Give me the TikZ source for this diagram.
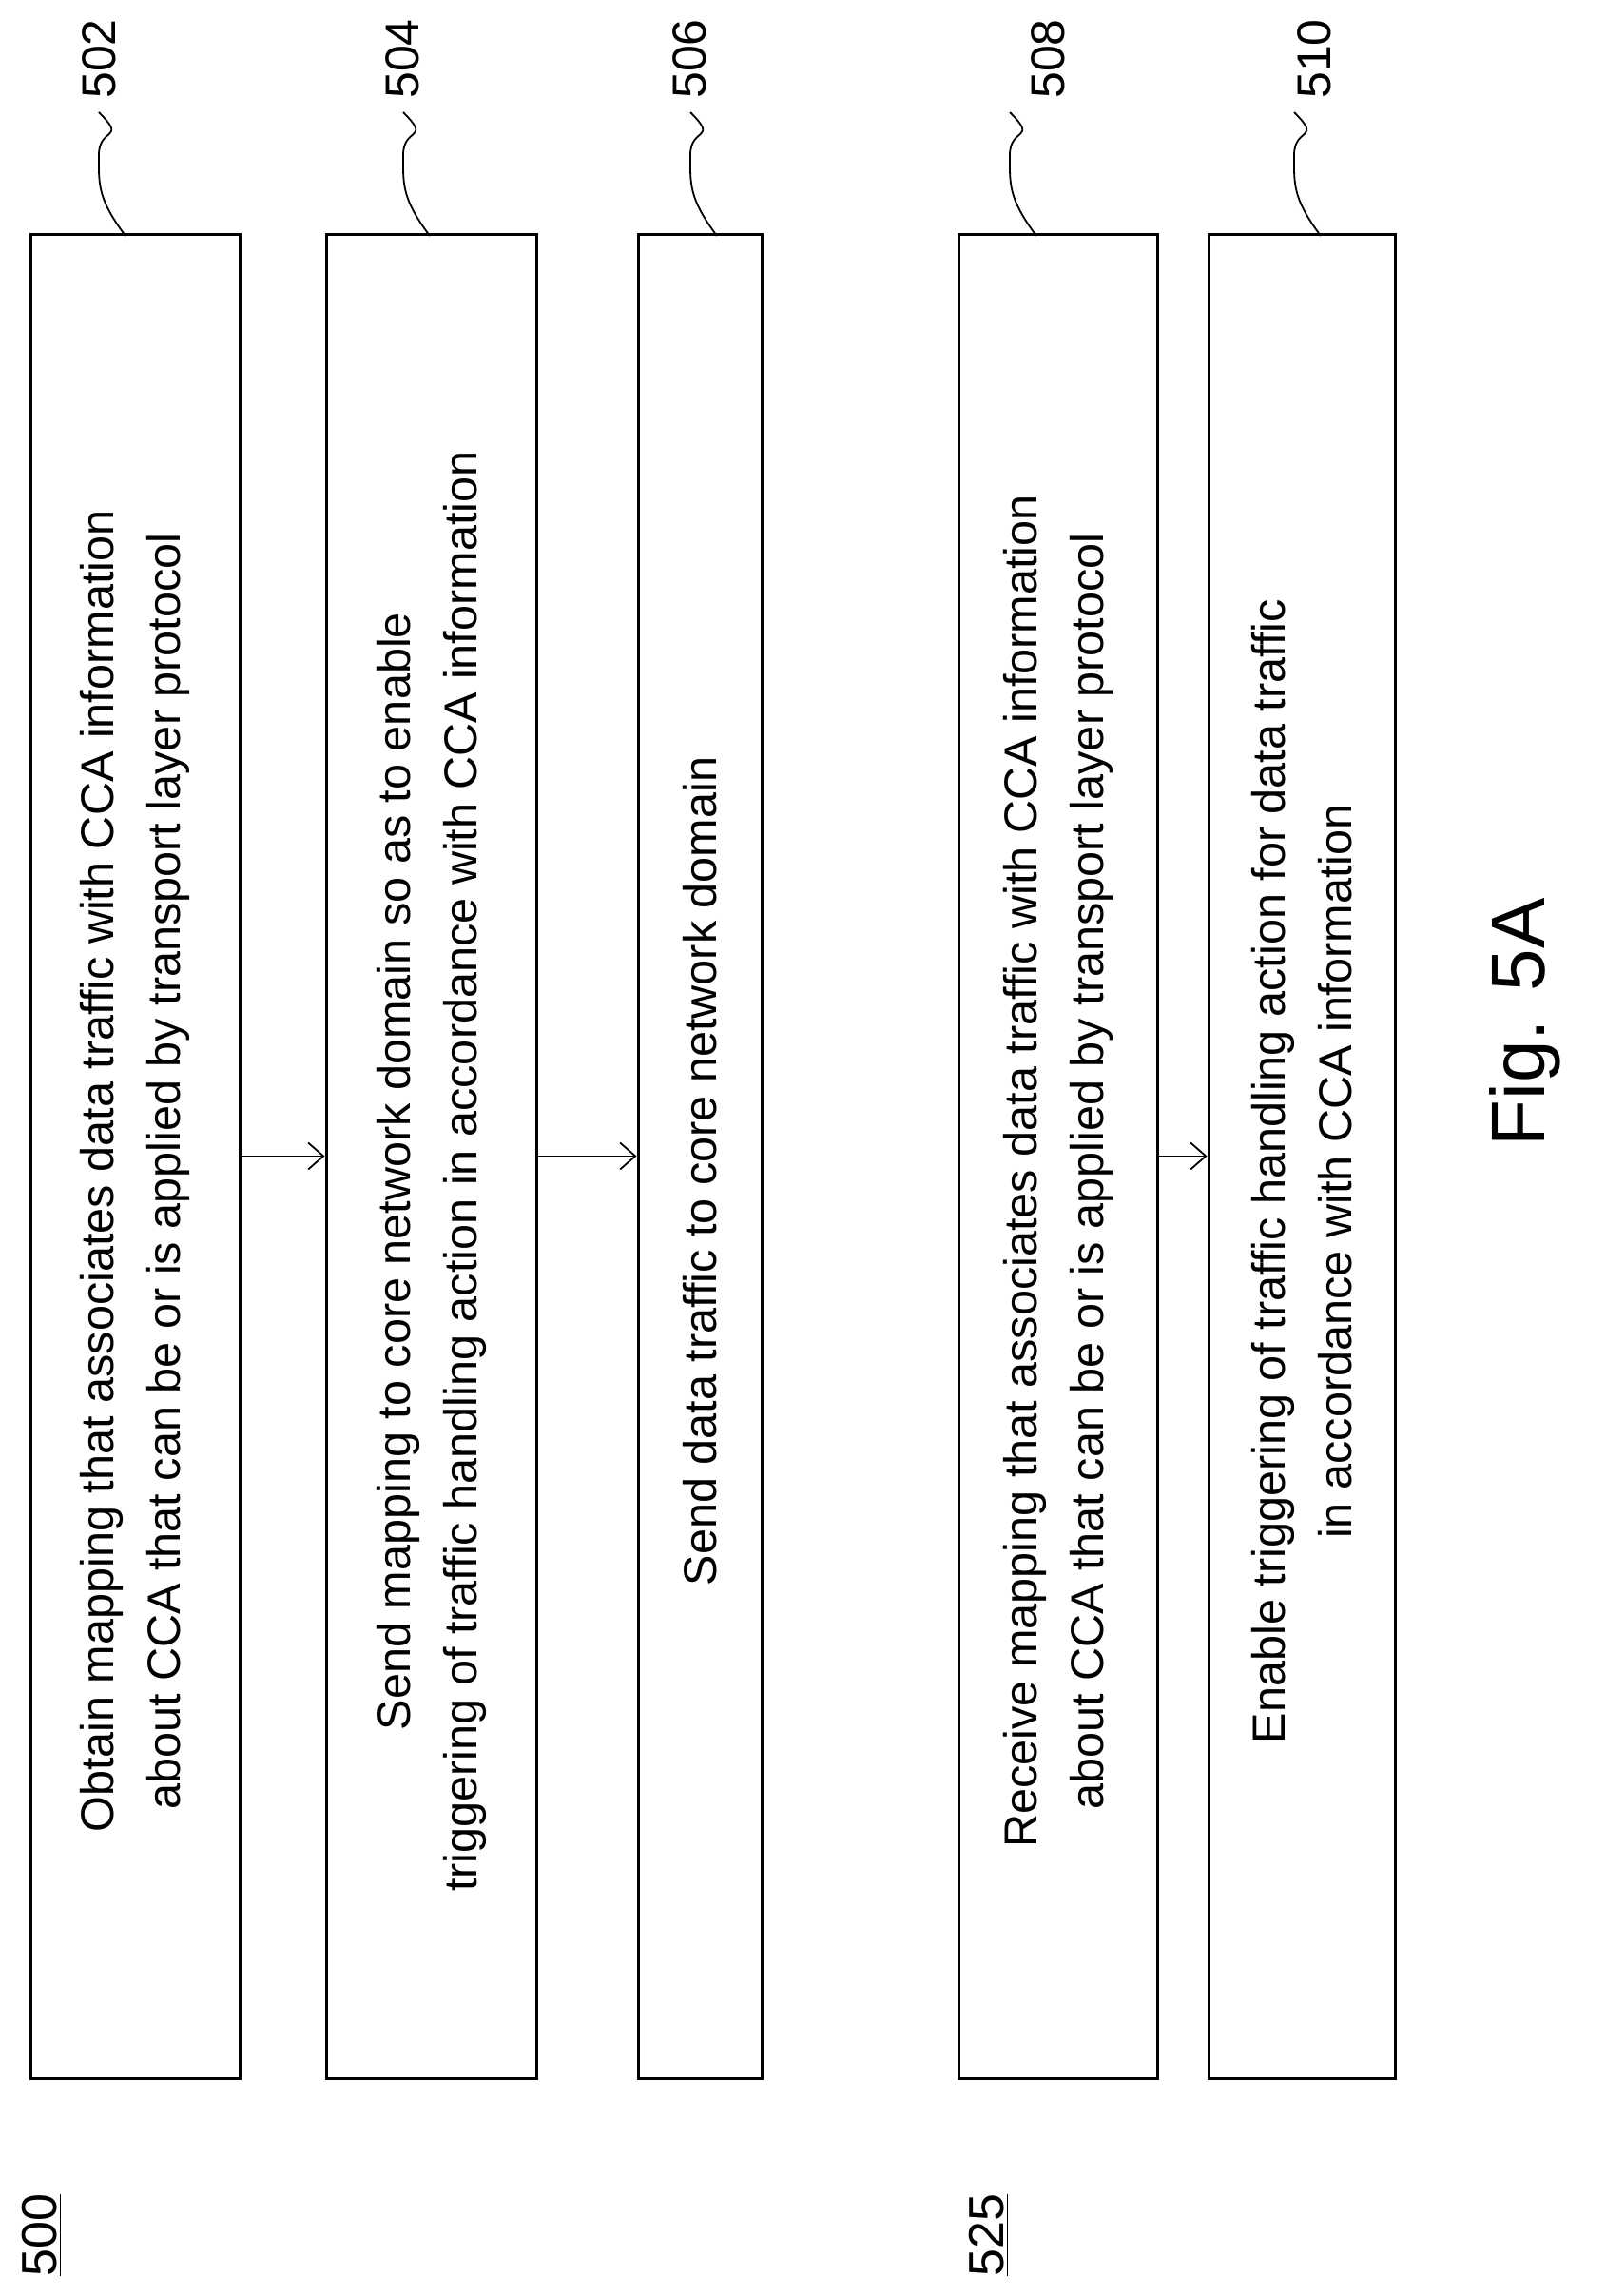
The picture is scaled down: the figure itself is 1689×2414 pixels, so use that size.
\documentclass[tikz,border=0pt]{standalone}
\usepackage{fontspec}
\setmainfont{Liberation Sans}
\usetikzlibrary{arrows.meta}
\begin{document}
\begin{tikzpicture}[x=0.5pt,y=-0.5pt,
  box/.style={draw,line width=1.5pt,inner sep=0pt,minimum height=969.5pt},
  txt/.style={rotate=90,align=center,font=\fontsize{24.3}{35}\selectfont},
  ref/.style={rotate=90,font=\fontsize{25}{29}\selectfont},
  arr/.style={-{Straight Barb[length=8pt,width=14pt]},line width=0.9pt},
  sq/.style={line width=0.9pt}]
\useasboundingbox (0,0) rectangle (1689,2414);
\node[box,minimum width=110pt] (b502) at (142,1215.5) {};
\node[box,minimum width=110.5pt] (b504) at (453.5,1215.5) {};
\node[box,minimum width=65pt] (b506) at (736,1215.5) {};
\node[box,minimum width=104.5pt] (b508) at (1112.5,1215.5) {};
\node[box,minimum width=98pt] (b510) at (1369,1215.5) {};
\node[txt] at ([yshift=-8pt]b502.center) {Obtain mapping that associates data traffic with CCA information\\about CCA that can be or is applied by transport layer protocol};
\node[txt] at ([yshift=-8pt]b504.center) {Send mapping to core network domain so as to enable\\triggering of traffic handling action in accordance with CCA information};
\node[txt] at ([yshift=-8pt]b506.center) {Send data traffic to core network domain};
\node[txt] at ([yshift=-8pt]b508.center) {Receive mapping that associates data traffic with CCA information\\about CCA that can be or is applied by transport layer protocol};
\node[txt] at ([yshift=-8pt]b510.center) {Enable triggering of traffic handling action for data traffic\\in accordance with CCA information};
\draw[arr] (b502.east) -- (b504.west);
\draw[arr] (b504.east) -- (b506.west);
\draw[arr] (b508.east) -- (b510.west);
\foreach \n/\x/\lx in {502/132/104,504/452/423,506/754/725,508/1090/1102,510/1389/1382}{
  \coordinate (s\n) at (\x,248);
  \draw[sq] (s\n) .. controls ++(-30,-40) and ++(0,30) .. ++(-28,-85) .. controls ++(0,-30) and ++(30,30) .. ++(0,-45) ;
  \node[ref] (l\n) at (\lx,62) {\n};
}
\node[ref,font=\fontsize{26}{30}\selectfont] (r500) at (44,2350) {\underline{500}};
\node[ref,font=\fontsize{26}{30}\selectfont] (r525) at (1040,2350) {\underline{525}};
\node[rotate=90,font=\fontsize{40}{46}\selectfont] (fig) at (1604,1075) {Fig. 5A};
\end{tikzpicture}
\end{document}
